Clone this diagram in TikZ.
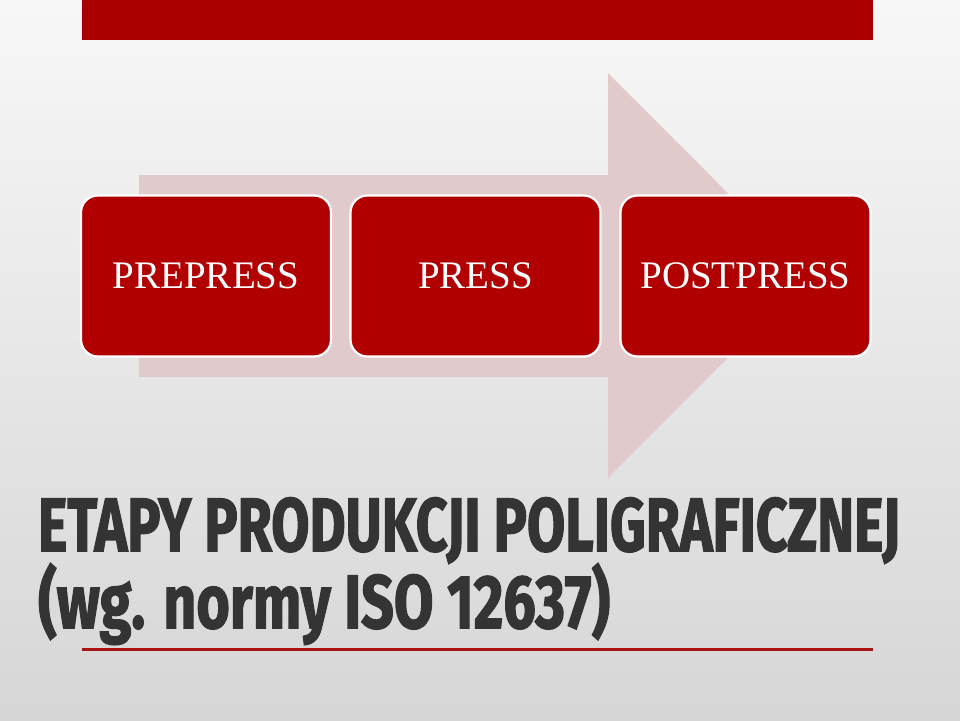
\documentclass[tikz,border=0pt]{standalone}
\usepackage{fontspec}
\setmainfont{Liberation Serif}
\newfontfamily\titlefont[BoldFeatures={FakeBold=2}]{Fira Sans}
\usetikzlibrary{shapes.geometric}
\definecolor{bgtop}{RGB}{247,247,247}
\definecolor{bgbot}{RGB}{214,214,214}
\definecolor{boxred}{RGB}{176,0,0}
\definecolor{barred}{RGB}{170,0,0}
\definecolor{arrowpink}{RGB}{225,202,204}
\definecolor{titlegray}{RGB}{52,52,52}
\definecolor{linered}{RGB}{170,20,20}
\newsavebox\tlineA
\newsavebox\tlineB
\tikzset{
  stagebox/.style={draw=white, line width=2.2pt, fill=boxred, rounded corners=17pt,
    minimum width=250pt, minimum height=161pt, inner sep=0pt, text=white,
    font=\fontsize{39}{41}\selectfont},
  titletext/.style={anchor=base west, inner sep=0pt, text=titlegray,
    font=\titlefont\bfseries\fontsize{75.5}{76}\selectfont}
}
\begin{document}
\sbox\tlineA{\titlefont\bfseries\fontsize{75.5}{76}\selectfont ETAPY PRODUKCJI POLIGRAFICZNEJ}%
\sbox\tlineB{\titlefont\bfseries\fontsize{75.5}{76}\selectfont (wg. normy ISO 12637)}%
\pgfmathsetmacro\sxA{862/\wd\tlineA}%
\pgfmathsetmacro\sxB{572/\wd\tlineB}%
\begin{tikzpicture}[x=1pt,y=-1pt]
\useasboundingbox (0,0) rectangle (960,720);
\shade[top color=bgtop, bottom color=bgbot] (0,0) rectangle (960,720);
% top bar
\fill[barred] (82,0) rectangle (873,40);
% big arrow
\fill[arrowpink] (139,175) -- (608,175) -- (608,73) -- (810,275.5) -- (608,478) -- (608,377) -- (139,377) -- cycle;
% stage boxes
\node[stagebox] (pre) at (206,276) {PREPRESS};
\node[stagebox] (press) at (475.5,276) {PRESS};
\node[stagebox] (post) at (745.5,276) {POSTPRESS};
% title
\node[titletext] (t1) at (38,551) {\scalebox{\sxA}[1]{ETAPY PRODUKCJI POLIGRAFICZNEJ}};
\node[titletext] (t2) at (38,628) {\scalebox{\sxB}[1]{(wg. normy ISO 12637)}};
% underline
\coordinate (ulA) at (82,649);
\coordinate (ulB) at (873,649);
\draw[linered, line width=3pt] (ulA) -- (ulB);
\end{tikzpicture}
\end{document}
